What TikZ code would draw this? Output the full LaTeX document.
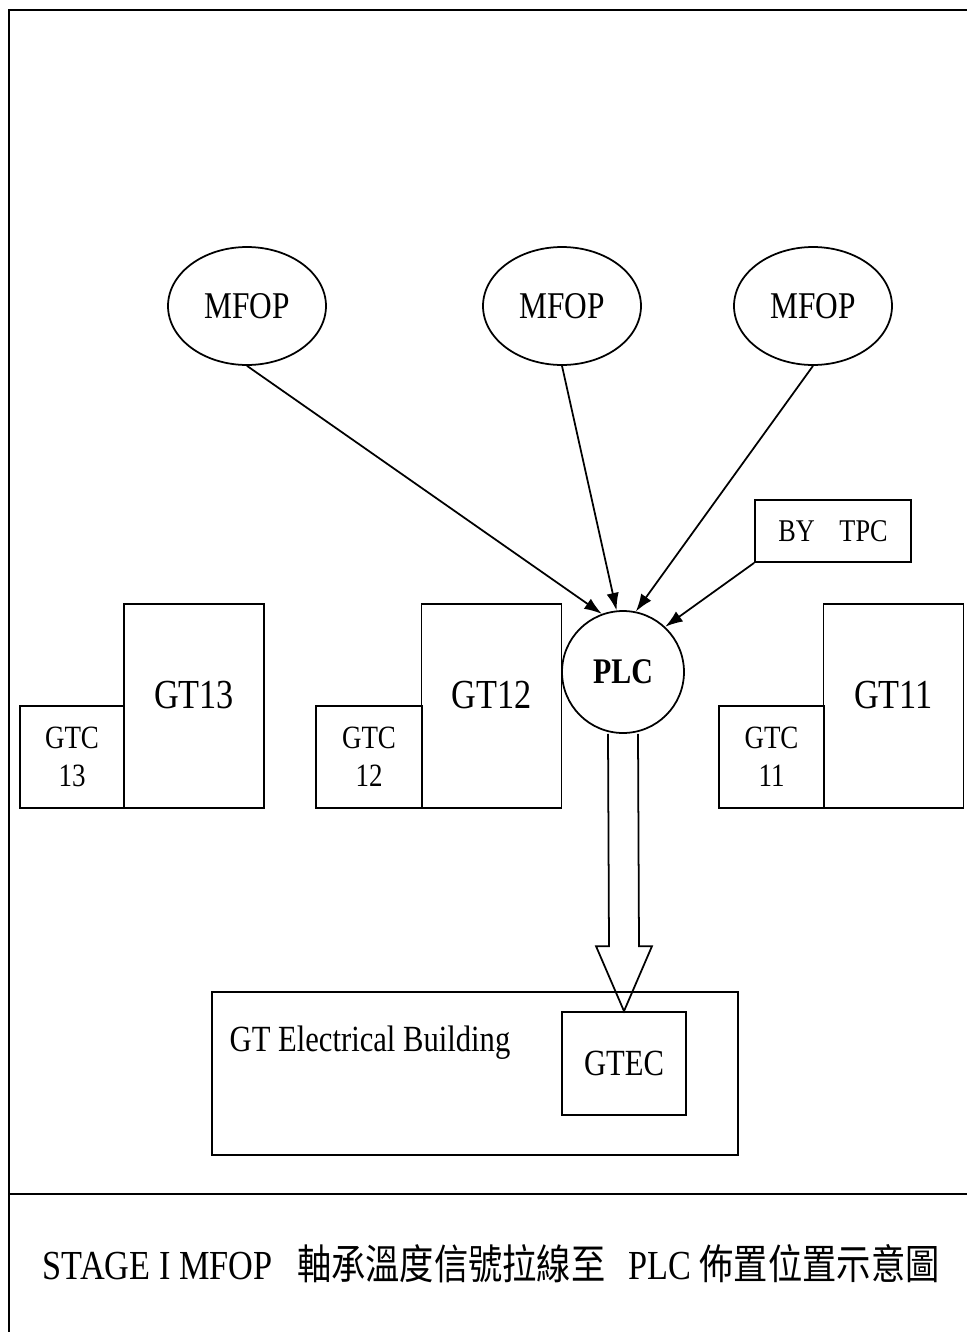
\documentclass[tikz,border=0pt]{standalone}
\usepackage{fontspec}
\setmainfont[FakeStretch=0.83]{Liberation Serif}
\newfontfamily\cjkfont[FakeStretch=0.83]{Noto Sans CJK TC}
\usetikzlibrary{arrows.meta, positioning, shapes.geometric, calc}

\begin{document}
\begin{tikzpicture}[x=0.02cm, y=-0.02cm, line width=1pt,
  mfop/.style={ellipse, draw, inner sep=0pt, minimum width=3.16cm, minimum height=2.36cm,
    font=\fontsize{21.5}{25}\selectfont},
  unit/.style={rectangle, draw, inner sep=0pt, minimum width=2.8cm, minimum height=4.08cm},
  gtlabel/.style={font=\fontsize{23.5}{27}\selectfont, yshift=0.22cm},
  ctrl/.style={rectangle, draw, inner sep=0pt, align=center, minimum height=2.04cm,
    font=\fontsize{18.5}{21.5}\selectfont},
  sig/.style={-{Latex[length=10pt,width=7pt]}}]

  \useasboundingbox (0,0) rectangle (967,1332);

  % Frame
  \draw[line width=1.4pt] (9,1332) -- (9,10) -- (967,10);
  \draw[line width=1.4pt] (9,1194) -- (967,1194);

  % Oil pumps
  \node[mfop] (mfop1) at (247,306) {MFOP};
  \node[mfop] (mfop2) at (562,306) {MFOP};
  \node[mfop] (mfop3) at (813,306) {MFOP};

  % PLC and supplier box
  \node[circle, draw, inner sep=0pt, minimum size=2.44cm,
    font=\fontsize{20.5}{24}\selectfont\bfseries] (plc) at (623,672) {PLC};
  \node[rectangle, draw, inner sep=0pt, minimum width=3.12cm, minimum height=1.24cm,
    font=\fontsize{18}{22}\selectfont] (tpc) at (833,531) {BY\hspace{14pt}TPC};

  % Gas turbine units
  \node[unit, label={[gtlabel]center:GT13}] (gt13) at (194,706) {};
  \node[ctrl, minimum width=2.08cm] (gtc13) at (72,757) {GTC\\13};
  \node[unit, label={[gtlabel]center:GT12}] (gt12) at (491.5,706) {};
  \node[ctrl, minimum width=2.12cm] (gtc12) at (369,757) {GTC\\12};
  \node[unit, label={[gtlabel]center:GT11}] (gt11) at (893.5,706) {};
  \node[ctrl, minimum width=2.1cm] (gtc11) at (771.5,757) {GTC\\11};

  % Electrical building
  \node[rectangle, draw, inner sep=0pt, minimum width=10.52cm, minimum height=3.26cm] (bldg) at (475,1073.5) {};
  \node[font=\fontsize{21}{25}\selectfont] (bldgname) at (370,1043) {GT Electrical Building};
  \node[rectangle, draw, inner sep=0pt, minimum width=2.48cm, minimum height=2.06cm,
    font=\fontsize{21}{25}\selectfont] (gtec) at (624,1063.5) {GTEC};

  % Signal wiring
  \draw[sig] (mfop1.south) -- (plc.110);
  \draw[sig] (mfop2.south) -- (plc.96);
  \draw[sig] (mfop3.south) -- (plc.78);
  \draw[sig] (tpc.south west) -- (plc.47);

  % Hollow arrow PLC -> GTEC
  \coordinate (headbase) at ($(gtec.north)+(0,-65)$);
  \draw ($(plc.south)+(-15,0)$) -- ($(headbase)+(-15,0)$) -- ($(headbase)+(-28,0)$)
    -- (gtec.north) -- ($(headbase)+(28,0)$) -- ($(headbase)+(15,0)$) -- ($(plc.south)+(15,0)$);

  % Caption
  \node[anchor=base west, inner sep=0pt, font=\fontsize{23.5}{27}\selectfont] (caption) at (42,1279)
    {STAGE I MFOP\hspace{14pt}{\cjkfont 軸承溫度信號拉線至}\hspace{13pt}PLC {\cjkfont 佈置位置示意圖}};

\end{tikzpicture}
\end{document}
